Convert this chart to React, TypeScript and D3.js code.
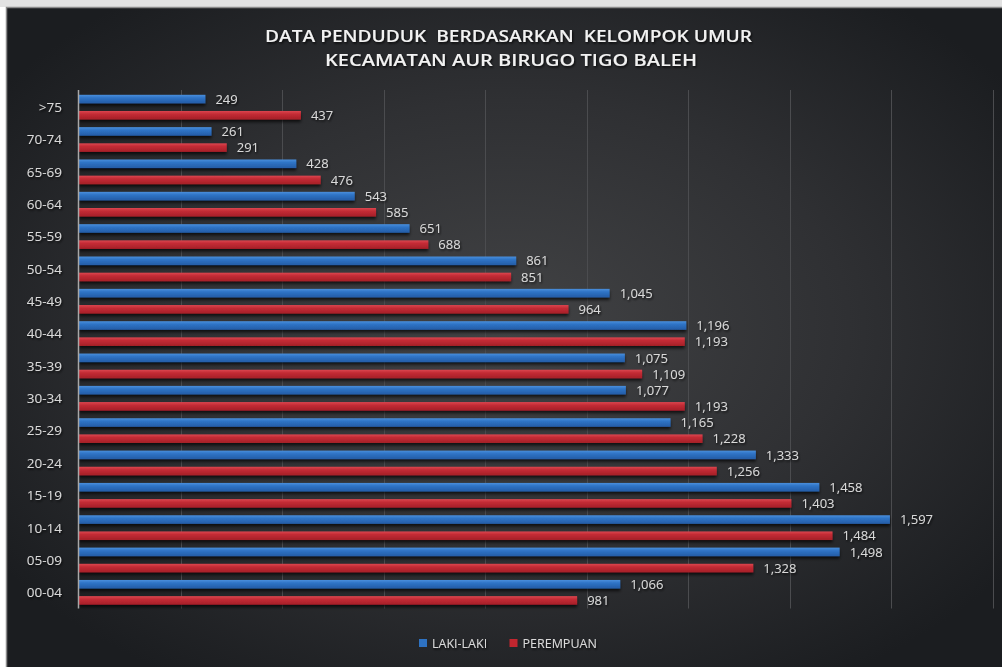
import React from "react";
import * as d3 from "d3";

const categories = ["00-04", "05-09", "10-14", "15-19", "20-24", "25-29", "30-34", "35-39", "40-44", "45-49", "50-54", "55-59", "60-64", "65-69", "70-74", ">75"];
const lakiLaki = [1066, 1498, 1597, 1458, 1333, 1165, 1077, 1075, 1196, 1045, 861, 651, 543, 428, 261, 249];
const perempuan = [981, 1328, 1484, 1403, 1256, 1228, 1193, 1109, 1193, 964, 851, 688, 585, 476, 291, 437];
const seriesNames = ["LAKI-LAKI", "PEREMPUAN"];
const xTicks = [0, 200, 400, 600, 800, 1000, 1200, 1400, 1600, 1800];
const titleLines = ["DATA PENDUDUK  BERDASARKAN  KELOMPOK UMUR", "KECAMATAN AUR BIRUGO TIGO BALEH"];

const W = 1002, H = 667;
const plot = { left: 79, right: 993, top: 91, bottom: 608.5 };
const FONT = "'Open Sans', 'Noto Sans', sans-serif";

export default function App() {
  const x = d3.scaleLinear().domain([0, 1800]).range([plot.left, plot.right]);
  const y = d3.scaleBand().domain([...categories].reverse()).range([plot.top, plot.bottom]).paddingInner(0).paddingOuter(0);
  const sub = d3.scaleBand().domain(seriesNames).range([0, y.bandwidth()]).paddingInner(0.47).paddingOuter(0.235);
  const fmt = d3.format(",");
  const series = [
    { name: seriesNames[0], values: lakiLaki, fill: "url(#gBlue)", key: "#2e72c2" },
    { name: seriesNames[1], values: perempuan, fill: "url(#gRed)", key: "#c2262f" },
  ];
  const labelColor = "#d9d9d9";

  return (
    <svg width={W} height={H} style={{ position: "fixed", left: 0, top: 0, display: "block" }} xmlns="http://www.w3.org/2000/svg">
      <defs>
        <radialGradient id="bg" cx="0.5" cy="0.48" r="0.62">
          <stop offset="0" stopColor="#424345" />
          <stop offset="0.55" stopColor="#2f3033" />
          <stop offset="1" stopColor="#1b1d20" />
        </radialGradient>
        <linearGradient id="gBlue" x1="0" y1="0" x2="0" y2="1">
          <stop offset="0" stopColor="#4a8fdc" />
          <stop offset="0.35" stopColor="#2f74c6" />
          <stop offset="1" stopColor="#245ca6" />
        </linearGradient>
        <linearGradient id="gRed" x1="0" y1="0" x2="0" y2="1">
          <stop offset="0" stopColor="#dc4650" />
          <stop offset="0.35" stopColor="#c42c35" />
          <stop offset="1" stopColor="#a51f28" />
        </linearGradient>
        <filter id="barShadow" x="-5%" y="-50%" width="110%" height="250%">
          <feDropShadow dx="0" dy="2.5" stdDeviation="1.5" floodColor="#000" floodOpacity="0.7" />
        </filter>
        <filter id="textShadow" x="-10%" y="-50%" width="120%" height="200%">
          <feDropShadow dx="1" dy="1.5" stdDeviation="1" floodColor="#000" floodOpacity="0.8" />
        </filter>
      </defs>
      <rect x={0} y={0} width={W} height={H} fill="#ffffff" />
      <rect x={0} y={0} width={W} height={7} fill="#e2e2e2" />
      <rect x={6.5} y={7.5} width={W} height={H} fill="url(#bg)" stroke="#8a8a8a" strokeWidth={1.5} />

      {/* title */}
      <g filter="url(#textShadow)" fontFamily={FONT} fontWeight="600" fill="#f2f2f2" textAnchor="middle" style={{ whiteSpace: "pre" }}>
        <text x={508.5} y={42} fontSize={16} textLength={487} lengthAdjust="spacingAndGlyphs" xmlSpace="preserve">{titleLines[0]}</text>
        <text x={511} y={65.5} fontSize={16} textLength={372} lengthAdjust="spacingAndGlyphs">{titleLines[1]}</text>
      </g>

      {/* gridlines */}
      <g>
        {xTicks.slice(1).map((t) => (
          <line key={t} x1={Math.round(x(t)) + 0.5} x2={Math.round(x(t)) + 0.5} y1={plot.top - 1} y2={plot.bottom} stroke="#4b4c4f" strokeWidth={1} />
        ))}
      </g>

      {/* bars */}
      <g filter="url(#barShadow)">
        {series.map((s) =>
          categories.map((c, i) => (
            <rect key={s.name + c} x={x(0)} y={(y(c) as number) + (sub(s.name) as number)} width={x(s.values[i]) - x(0)} height={sub.bandwidth()} fill={s.fill} />
          ))
        )}
      </g>

      {/* axis line */}
      <line x1={plot.left - 0.5} x2={plot.left - 0.5} y1={plot.top - 1} y2={plot.bottom} stroke="#a8a8a8" strokeWidth={1.5} />

      {/* value labels */}
      <g fontFamily={FONT} fontSize={13} fill={labelColor} filter="url(#textShadow)">
        {series.map((s) =>
          categories.map((c, i) => (
            <text key={"l" + s.name + c} x={x(s.values[i]) + 10} y={(y(c) as number) + (sub(s.name) as number) + sub.bandwidth() / 2} dy="0.36em">
              {fmt(s.values[i])}
            </text>
          ))
        )}
      </g>

      {/* category labels */}
      <g fontFamily={FONT} fontSize={13.5} fill={labelColor} textAnchor="end" filter="url(#textShadow)">
        {categories.map((c) => (
          <text key={"c" + c} x={62} y={(y(c) as number) + y.bandwidth() / 2} dy="0.36em">{c}</text>
        ))}
      </g>

      {/* legend */}
      <g fontFamily={FONT} fontSize={12.5} fill={labelColor}>
        <rect x={419} y={639} width={8} height={8} fill={series[0].key} />
        <text x={432} y={647.5} filter="url(#textShadow)">{seriesNames[0]}</text>
        <rect x={509.5} y={639} width={8} height={8} fill={series[1].key} />
        <text x={522.5} y={647.5} filter="url(#textShadow)">{seriesNames[1]}</text>
      </g>
    </svg>
  );
}
